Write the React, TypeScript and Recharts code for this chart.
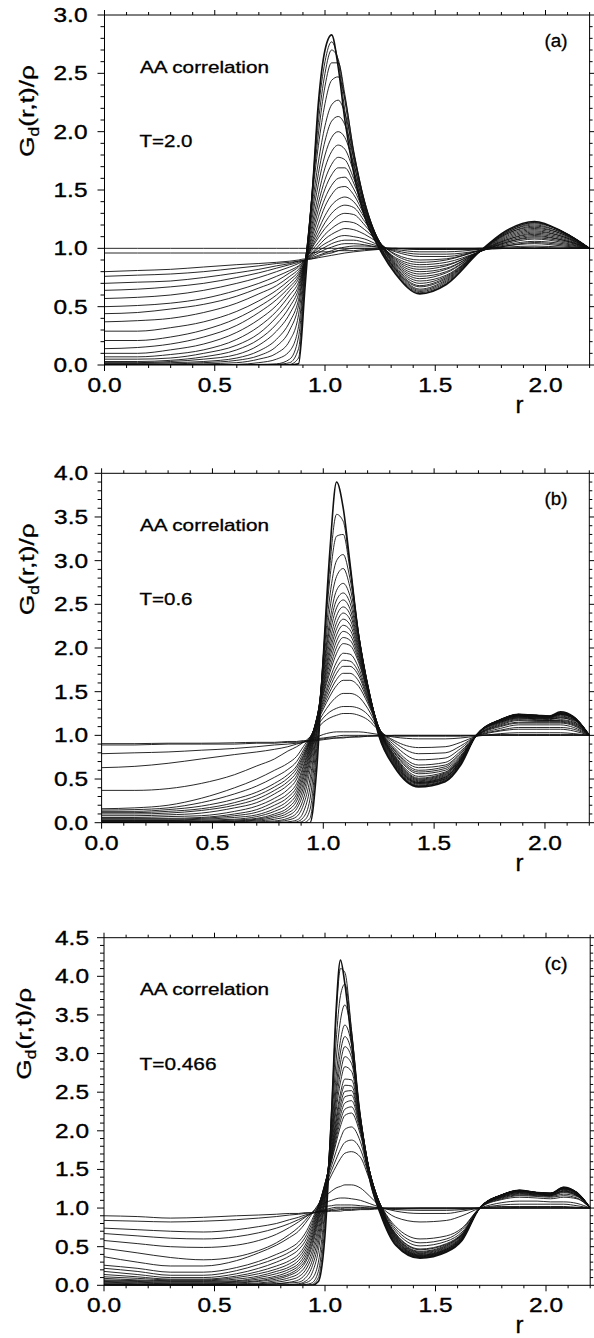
import React from 'react';
import { LineChart, Line, XAxis, YAxis } from 'recharts';

const FONT = '"Liberation Sans", Arial, Helvetica, sans-serif';

// ---------------- Panel (a)  T = 2.0 ----------------
const rA = [0, 0.15, 0.3, 0.45, 0.6, 0.7, 0.78, 0.84, 0.88, 0.91, 0.94, 0.97, 1.0, 1.03, 1.06, 1.09, 1.13, 1.18, 1.24, 1.32, 1.43, 1.55, 1.7, 1.82, 1.95, 2.08, 2.2];
const a0 = [0, 0, 0, 0, 0, 0, 0, 0, 0.01, 0.68, 1.41, 2.25, 2.7, 2.83, 2.55, 2.1, 1.65, 1.27, 1.02, 0.78, 0.61, 0.69, 0.97, 1.15, 1.23, 1.14, 1.0];
const a1 = [0, 0, 0, 0, 0, 0, 0, 0.005, 0.06, 0.76, 1.45, 2.18, 2.6, 2.77, 2.6, 2.18, 1.7, 1.3, 1.03, 0.79, 0.62, 0.7, 0.97, 1.14, 1.22, 1.14, 1.0];
const a2 = [0, 0, 0, 0, 0, 0, 0.005, 0.02, 0.14, 0.8, 1.44, 2.08, 2.5, 2.7, 2.62, 2.27, 1.76, 1.33, 1.04, 0.8, 0.63, 0.71, 0.97, 1.14, 1.22, 1.14, 1.0];
const a3 = [0, 0, 0, 0, 0, 0.005, 0.01, 0.05, 0.24, 0.84, 1.43, 1.98, 2.39, 2.59, 2.59, 2.32, 1.82, 1.36, 1.05, 0.81, 0.64, 0.72, 0.97, 1.13, 1.21, 1.14, 1.0];
const a4 = [0, 0, 0, 0, 0.005, 0.02, 0.05, 0.12, 0.33, 0.86, 1.4, 1.88, 2.24, 2.44, 2.47, 2.29, 1.84, 1.39, 1.06, 0.82, 0.65, 0.73, 0.97, 1.13, 1.2, 1.13, 1.0];
const a5 = [0.005, 0.005, 0.005, 0.01, 0.02, 0.05, 0.1, 0.21, 0.43, 0.88, 1.34, 1.74, 2.05, 2.23, 2.27, 2.16, 1.82, 1.4, 1.06, 0.82, 0.67, 0.74, 0.97, 1.12, 1.19, 1.13, 1.0];
const a6 = [0.01, 0.01, 0.01, 0.02, 0.04, 0.08, 0.16, 0.3, 0.51, 0.89, 1.29, 1.64, 1.92, 2.09, 2.13, 2.06, 1.78, 1.4, 1.07, 0.83, 0.68, 0.75, 0.97, 1.12, 1.18, 1.12, 1.0];
const a7 = [0.015, 0.015, 0.02, 0.03, 0.06, 0.12, 0.22, 0.37, 0.56, 0.89, 1.24, 1.55, 1.8, 1.95, 2.0, 1.95, 1.72, 1.38, 1.08, 0.84, 0.7, 0.76, 0.97, 1.11, 1.17, 1.12, 1.0];
const a8 = [0.02, 0.02, 0.03, 0.05, 0.09, 0.17, 0.29, 0.44, 0.61, 0.89, 1.19, 1.46, 1.69, 1.83, 1.885, 1.85, 1.66, 1.36, 1.08, 0.85, 0.72, 0.77, 0.97, 1.1, 1.16, 1.11, 1.0];
const a9 = [0.03, 0.03, 0.04, 0.07, 0.13, 0.22, 0.35, 0.5, 0.65, 0.89, 1.15, 1.39, 1.59, 1.72, 1.78, 1.76, 1.6, 1.34, 1.08, 0.86, 0.74, 0.79, 0.97, 1.09, 1.15, 1.1, 1.0];
const a10 = [0.05, 0.05, 0.06, 0.1, 0.17, 0.27, 0.41, 0.55, 0.68, 0.89, 1.11, 1.33, 1.51, 1.63, 1.69, 1.69, 1.56, 1.32, 1.08, 0.87, 0.76, 0.8, 0.97, 1.08, 1.14, 1.1, 1.0];
const a11 = [0.07, 0.07, 0.09, 0.13, 0.22, 0.33, 0.46, 0.6, 0.71, 0.89, 1.08, 1.27, 1.43, 1.54, 1.6, 1.61, 1.51, 1.3, 1.08, 0.88, 0.78, 0.82, 0.97, 1.07, 1.13, 1.09, 1.0];
const a12 = [0.1, 0.1, 0.13, 0.18, 0.28, 0.39, 0.51, 0.64, 0.74, 0.89, 1.05, 1.21, 1.36, 1.46, 1.52, 1.53, 1.46, 1.28, 1.08, 0.89, 0.8, 0.83, 0.97, 1.07, 1.12, 1.08, 1.0];
const a13 = [0.14, 0.15, 0.18, 0.24, 0.34, 0.45, 0.56, 0.67, 0.76, 0.89, 1.03, 1.16, 1.28, 1.37, 1.42, 1.44, 1.4, 1.26, 1.07, 0.9, 0.82, 0.85, 0.97, 1.06, 1.11, 1.07, 1.0];
const a14 = [0.21, 0.21, 0.24, 0.3, 0.4, 0.5, 0.6, 0.7, 0.78, 0.89, 1.01, 1.12, 1.22, 1.3, 1.35, 1.37, 1.35, 1.23, 1.07, 0.91, 0.84, 0.86, 0.97, 1.05, 1.1, 1.07, 1.0];
const a15 = [0.29, 0.29, 0.32, 0.37, 0.46, 0.55, 0.64, 0.73, 0.8, 0.9, 1.0, 1.09, 1.17, 1.23, 1.28, 1.3, 1.29, 1.2, 1.06, 0.92, 0.86, 0.88, 0.97, 1.05, 1.09, 1.06, 1.0];
const a16 = [0.37, 0.38, 0.4, 0.45, 0.53, 0.61, 0.68, 0.76, 0.82, 0.9, 0.98, 1.05, 1.12, 1.17, 1.21, 1.23, 1.22, 1.16, 1.06, 0.94, 0.88, 0.9, 0.98, 1.04, 1.08, 1.05, 1.0];
const a17 = [0.44, 0.45, 0.48, 0.52, 0.59, 0.66, 0.72, 0.79, 0.84, 0.9, 0.96, 1.02, 1.08, 1.12, 1.15, 1.17, 1.16, 1.12, 1.05, 0.95, 0.9, 0.91, 0.98, 1.03, 1.06, 1.04, 1.0];
const a18 = [0.5, 0.51, 0.53, 0.57, 0.64, 0.7, 0.76, 0.81, 0.85, 0.9, 0.95, 1.0, 1.04, 1.07, 1.1, 1.11, 1.1, 1.08, 1.03, 0.97, 0.93, 0.93, 0.98, 1.02, 1.05, 1.03, 1.0];
const a19 = [0.57, 0.58, 0.6, 0.64, 0.7, 0.75, 0.8, 0.84, 0.87, 0.9, 0.94, 0.98, 1.01, 1.04, 1.06, 1.07, 1.07, 1.05, 1.02, 0.98, 0.95, 0.95, 0.98, 1.02, 1.04, 1.02, 1.0];
const a20 = [0.64, 0.65, 0.67, 0.7, 0.75, 0.79, 0.83, 0.86, 0.88, 0.9, 0.93, 0.96, 0.99, 1.01, 1.03, 1.04, 1.04, 1.03, 1.01, 0.99, 0.97, 0.97, 0.99, 1.01, 1.02, 1.01, 1.0];
const a21 = [0.7, 0.71, 0.72, 0.75, 0.79, 0.82, 0.85, 0.87, 0.89, 0.9, 0.92, 0.94, 0.96, 0.98, 1.0, 1.01, 1.02, 1.02, 1.01, 1.0, 0.99, 0.99, 0.99, 1.0, 1.01, 1.0, 1.0];
const a22 = [0.76, 0.77, 0.78, 0.8, 0.83, 0.85, 0.87, 0.88, 0.89, 0.9, 0.91, 0.93, 0.95, 0.96, 0.98, 0.99, 1.0, 1.0, 1.0, 1.0, 0.99, 0.99, 1.0, 1.0, 1.0, 1.0, 1.0];
const a23 = [0.8, 0.81, 0.82, 0.84, 0.86, 0.87, 0.88, 0.89, 0.9, 0.91, 0.91, 0.92, 0.93, 0.94, 0.95, 0.96, 0.97, 0.98, 0.99, 1.0, 1.0, 1.0, 1.0, 1.0, 1.0, 1.0, 1.0];
const a24 = [0.96, 0.96, 0.96, 0.96, 0.96, 0.96, 0.96, 0.96, 0.96, 0.96, 0.96, 0.97, 0.97, 0.97, 0.98, 0.98, 0.98, 0.99, 0.99, 1.0, 1.0, 1.0, 1.0, 1.0, 1.0, 1.0, 1.0];
const a25 = [1.0, 1.0, 1.0, 1.0, 1.0, 1.0, 1.0, 1.0, 1.0, 1.0, 1.0, 1.0, 1.0, 1.0, 1.0, 1.0, 1.0, 1.0, 1.0, 1.0, 1.0, 1.0, 1.0, 1.0, 1.0, 1.0, 1.0];
const seriesA = [a0, a1, a2, a3, a4, a5, a6, a7, a8, a9, a10, a11, a12, a13, a14, a15, a16, a17, a18, a19, a20, a21, a22, a23, a24, a25];

// ---------------- Panel (b)  T = 0.6 ----------------
const rB = [0, 0.15, 0.3, 0.45, 0.6, 0.7, 0.78, 0.84, 0.88, 0.91, 0.94, 0.97, 1.0, 1.03, 1.06, 1.09, 1.12, 1.16, 1.2, 1.25, 1.32, 1.43, 1.55, 1.62, 1.69, 1.8, 1.88, 1.96, 2.02, 2.07, 2.13, 2.2];
const b0 = [0, 0, 0, 0, 0, 0, 0, 0, 0, 0, 0, 0.6, 1.9, 3.12, 3.9, 3.6, 2.98, 2.13, 1.55, 1.0, 0.64, 0.41, 0.47, 0.66, 1.0, 1.18, 1.24, 1.23, 1.22, 1.27, 1.21, 1.0];
const b1 = [0, 0, 0, 0, 0, 0, 0, 0, 0, 0, 0.05, 0.75, 1.9, 2.95, 3.53, 3.45, 2.95, 2.15, 1.56, 1.01, 0.65, 0.42, 0.48, 0.67, 1.0, 1.18, 1.24, 1.23, 1.22, 1.26, 1.21, 1.0];
const b2 = [0, 0, 0, 0, 0, 0, 0, 0, 0, 0.02, 0.15, 0.85, 1.9, 2.8, 3.28, 3.3, 2.9, 2.15, 1.57, 1.02, 0.66, 0.42, 0.48, 0.67, 1.0, 1.18, 1.24, 1.23, 1.22, 1.26, 1.21, 1.0];
const b3 = [0, 0, 0, 0, 0, 0, 0, 0, 0.01, 0.06, 0.27, 0.95, 1.85, 2.6, 3.0, 3.07, 2.8, 2.15, 1.58, 1.03, 0.67, 0.43, 0.49, 0.68, 1.0, 1.18, 1.24, 1.23, 1.22, 1.26, 1.21, 1.0];
const b4 = [0, 0, 0, 0, 0, 0, 0, 0.01, 0.03, 0.12, 0.4, 1.02, 1.8, 2.45, 2.82, 2.91, 2.7, 2.13, 1.59, 1.04, 0.68, 0.44, 0.5, 0.69, 1.0, 1.18, 1.23, 1.22, 1.21, 1.25, 1.2, 1.0];
const b5 = [0, 0, 0, 0, 0, 0, 0.01, 0.03, 0.07, 0.2, 0.5, 1.06, 1.75, 2.32, 2.66, 2.74, 2.6, 2.1, 1.59, 1.05, 0.69, 0.45, 0.5, 0.69, 1.0, 1.18, 1.23, 1.22, 1.21, 1.25, 1.2, 1.0];
const b6 = [0, 0, 0, 0, 0, 0.01, 0.02, 0.05, 0.11, 0.27, 0.6, 1.1, 1.72, 2.24, 2.55, 2.63, 2.52, 2.07, 1.58, 1.06, 0.7, 0.45, 0.51, 0.7, 1.0, 1.17, 1.23, 1.22, 1.21, 1.25, 1.2, 1.0];
const b7 = [0.005, 0.005, 0.005, 0.005, 0.01, 0.02, 0.04, 0.08, 0.16, 0.34, 0.67, 1.14, 1.68, 2.16, 2.46, 2.55, 2.45, 2.04, 1.57, 1.07, 0.71, 0.46, 0.52, 0.71, 1.0, 1.17, 1.23, 1.22, 1.21, 1.24, 1.2, 1.0];
const b8 = [0.01, 0.01, 0.01, 0.01, 0.015, 0.03, 0.06, 0.11, 0.2, 0.4, 0.72, 1.16, 1.64, 2.08, 2.37, 2.47, 2.39, 2.01, 1.56, 1.08, 0.72, 0.46, 0.52, 0.71, 1.0, 1.17, 1.22, 1.21, 1.21, 1.24, 1.2, 1.0];
const b9 = [0.015, 0.015, 0.015, 0.015, 0.02, 0.04, 0.08, 0.14, 0.25, 0.45, 0.76, 1.17, 1.6, 2.01, 2.29, 2.4, 2.33, 1.98, 1.55, 1.08, 0.73, 0.47, 0.53, 0.71, 1.0, 1.17, 1.22, 1.21, 1.21, 1.24, 1.19, 1.0];
const b10 = [0.02, 0.02, 0.02, 0.02, 0.03, 0.05, 0.1, 0.17, 0.29, 0.5, 0.8, 1.18, 1.57, 1.95, 2.22, 2.33, 2.27, 1.95, 1.54, 1.09, 0.74, 0.48, 0.54, 0.72, 1.0, 1.17, 1.22, 1.21, 1.2, 1.23, 1.19, 1.0];
const b11 = [0.025, 0.025, 0.025, 0.03, 0.04, 0.07, 0.13, 0.21, 0.33, 0.54, 0.83, 1.19, 1.54, 1.89, 2.15, 2.26, 2.21, 1.92, 1.53, 1.09, 0.75, 0.49, 0.55, 0.73, 1.0, 1.16, 1.21, 1.2, 1.2, 1.22, 1.18, 1.0];
const b12 = [0.03, 0.03, 0.03, 0.04, 0.06, 0.09, 0.16, 0.25, 0.37, 0.58, 0.86, 1.19, 1.51, 1.83, 2.08, 2.19, 2.15, 1.89, 1.52, 1.09, 0.76, 0.5, 0.56, 0.73, 1.0, 1.16, 1.21, 1.2, 1.19, 1.21, 1.18, 1.0];
const b13 = [0.04, 0.04, 0.04, 0.05, 0.08, 0.12, 0.2, 0.29, 0.41, 0.62, 0.88, 1.19, 1.48, 1.77, 2.01, 2.12, 2.09, 1.86, 1.5, 1.09, 0.77, 0.51, 0.57, 0.74, 1.0, 1.15, 1.2, 1.19, 1.19, 1.2, 1.17, 1.0];
const b14 = [0.05, 0.05, 0.05, 0.06, 0.1, 0.15, 0.24, 0.33, 0.45, 0.65, 0.9, 1.19, 1.46, 1.72, 1.94, 2.05, 2.03, 1.83, 1.49, 1.09, 0.78, 0.53, 0.58, 0.75, 1.0, 1.15, 1.2, 1.19, 1.18, 1.2, 1.16, 1.0];
const b15 = [0.06, 0.06, 0.07, 0.08, 0.13, 0.19, 0.28, 0.38, 0.5, 0.69, 0.92, 1.18, 1.42, 1.65, 1.84, 1.94, 1.93, 1.77, 1.46, 1.09, 0.8, 0.56, 0.6, 0.76, 0.99, 1.14, 1.19, 1.18, 1.17, 1.18, 1.15, 1.0];
const b16 = [0.08, 0.08, 0.09, 0.11, 0.17, 0.23, 0.33, 0.43, 0.54, 0.72, 0.93, 1.17, 1.39, 1.6, 1.77, 1.86, 1.85, 1.72, 1.44, 1.09, 0.81, 0.58, 0.62, 0.77, 0.99, 1.13, 1.18, 1.17, 1.17, 1.17, 1.14, 1.0];
const b17 = [0.1, 0.1, 0.11, 0.14, 0.2, 0.27, 0.37, 0.47, 0.58, 0.75, 0.94, 1.16, 1.36, 1.55, 1.71, 1.79, 1.79, 1.68, 1.42, 1.09, 0.83, 0.6, 0.64, 0.79, 0.99, 1.12, 1.17, 1.16, 1.16, 1.16, 1.13, 1.0];
const b18 = [0.115, 0.115, 0.13, 0.16, 0.23, 0.31, 0.41, 0.51, 0.62, 0.77, 0.95, 1.15, 1.33, 1.5, 1.64, 1.71, 1.71, 1.62, 1.4, 1.09, 0.84, 0.63, 0.66, 0.8, 0.99, 1.11, 1.15, 1.15, 1.15, 1.15, 1.12, 1.0];
const b19 = [0.13, 0.13, 0.15, 0.19, 0.27, 0.35, 0.45, 0.55, 0.65, 0.8, 0.96, 1.14, 1.3, 1.45, 1.57, 1.63, 1.63, 1.56, 1.37, 1.09, 0.86, 0.66, 0.69, 0.82, 0.99, 1.1, 1.14, 1.14, 1.14, 1.14, 1.11, 1.0];
const b20 = [0.145, 0.15, 0.17, 0.23, 0.33, 0.42, 0.52, 0.61, 0.7, 0.83, 0.97, 1.12, 1.25, 1.36, 1.44, 1.48, 1.48, 1.44, 1.31, 1.08, 0.89, 0.72, 0.74, 0.85, 0.99, 1.08, 1.12, 1.12, 1.12, 1.12, 1.09, 1.0];
const b21 = [0.16, 0.17, 0.2, 0.28, 0.4, 0.5, 0.6, 0.68, 0.76, 0.87, 0.98, 1.1, 1.2, 1.27, 1.31, 1.33, 1.33, 1.31, 1.24, 1.07, 0.92, 0.79, 0.8, 0.88, 0.99, 1.06, 1.09, 1.09, 1.09, 1.09, 1.07, 1.0];
const b22 = [0.37, 0.37, 0.39, 0.45, 0.55, 0.65, 0.73, 0.82, 0.87, 0.92, 0.98, 1.07, 1.15, 1.2, 1.23, 1.25, 1.25, 1.23, 1.18, 1.06, 0.94, 0.86, 0.87, 0.92, 0.99, 1.05, 1.07, 1.07, 1.07, 1.07, 1.05, 1.0];
const b23 = [0.63, 0.645, 0.68, 0.73, 0.78, 0.81, 0.84, 0.87, 0.9, 0.92, 0.95, 0.98, 1.01, 1.03, 1.04, 1.04, 1.04, 1.04, 1.03, 1.01, 0.98, 0.96, 0.96, 0.97, 0.99, 1.02, 1.03, 1.03, 1.03, 1.03, 1.02, 1.0];
const b24 = [0.79, 0.8, 0.81, 0.83, 0.85, 0.87, 0.89, 0.9, 0.91, 0.92, 0.94, 0.96, 0.97, 0.98, 0.99, 1.0, 1.0, 1.0, 1.0, 1.0, 0.99, 0.99, 0.99, 0.99, 1.0, 1.01, 1.01, 1.01, 1.01, 1.01, 1.01, 1.0];
const b25 = [0.89, 0.89, 0.9, 0.9, 0.9, 0.91, 0.91, 0.92, 0.92, 0.93, 0.93, 0.94, 0.95, 0.96, 0.97, 0.97, 0.98, 0.98, 0.99, 0.99, 1.0, 1.0, 1.0, 1.0, 1.0, 1.0, 1.0, 1.0, 1.0, 1.0, 1.0, 1.0];
const b26 = [0.905, 0.905, 0.91, 0.91, 0.915, 0.92, 0.92, 0.93, 0.93, 0.94, 0.94, 0.95, 0.96, 0.97, 0.97, 0.98, 0.98, 0.99, 0.99, 1.0, 1.0, 1.0, 1.0, 1.0, 1.0, 1.0, 1.0, 1.0, 1.0, 1.0, 1.0, 1.0];
const seriesB = [b0, b1, b2, b3, b4, b5, b6, b7, b8, b9, b10, b11, b12, b13, b14, b15, b16, b17, b18, b19, b20, b21, b22, b23, b24, b25, b26];

// ---------------- Panel (c)  T = 0.466 ----------------
const rC = [0, 0.15, 0.3, 0.45, 0.6, 0.7, 0.78, 0.84, 0.88, 0.91, 0.94, 0.97, 1.0, 1.03, 1.05, 1.07, 1.09, 1.12, 1.16, 1.2, 1.25, 1.32, 1.43, 1.55, 1.62, 1.7, 1.8, 1.88, 1.96, 2.02, 2.08, 2.14, 2.2];
const c0 = [0, 0, 0, 0, 0, 0, 0, 0, 0, 0, 0, 0.05, 0.65, 2.25, 3.55, 4.21, 3.9, 3.15, 2.1, 1.4, 0.93, 0.52, 0.35, 0.43, 0.58, 1.0, 1.17, 1.23, 1.2, 1.19, 1.27, 1.2, 1.0];
const c1 = [0, 0, 0, 0, 0, 0, 0, 0, 0, 0, 0.01, 0.1, 0.8, 2.3, 3.45, 4.1, 4.05, 3.3, 2.12, 1.4, 0.94, 0.53, 0.36, 0.44, 0.59, 1.0, 1.17, 1.23, 1.2, 1.19, 1.27, 1.2, 1.0];
const c2 = [0, 0, 0, 0, 0, 0, 0, 0, 0, 0.01, 0.03, 0.18, 0.92, 2.2, 3.15, 3.75, 3.9, 3.3, 2.15, 1.42, 0.95, 0.54, 0.36, 0.44, 0.59, 1.0, 1.17, 1.23, 1.2, 1.19, 1.26, 1.2, 1.0];
const c3 = [0, 0, 0, 0, 0, 0, 0, 0, 0.01, 0.03, 0.08, 0.3, 1.0, 2.1, 2.9, 3.43, 3.63, 3.25, 2.2, 1.46, 0.96, 0.55, 0.37, 0.45, 0.6, 1.0, 1.17, 1.23, 1.2, 1.19, 1.26, 1.2, 1.0];
const c4 = [0, 0, 0, 0, 0, 0, 0, 0.01, 0.02, 0.05, 0.15, 0.45, 1.1, 2.0, 2.7, 3.17, 3.37, 3.12, 2.2, 1.48, 0.97, 0.56, 0.37, 0.45, 0.6, 1.0, 1.17, 1.22, 1.2, 1.19, 1.26, 1.2, 1.0];
const c5 = [0.01, 0.005, 0, 0, 0, 0.01, 0.02, 0.03, 0.04, 0.09, 0.23, 0.55, 1.15, 1.95, 2.55, 3.02, 3.22, 3.02, 2.18, 1.49, 0.98, 0.57, 0.38, 0.46, 0.61, 1.0, 1.17, 1.22, 1.2, 1.19, 1.26, 1.2, 1.0];
const c6 = [0.015, 0.01, 0.005, 0.005, 0.005, 0.01, 0.02, 0.04, 0.07, 0.14, 0.3, 0.63, 1.18, 1.9, 2.45, 2.88, 3.09, 2.95, 2.17, 1.5, 0.99, 0.58, 0.38, 0.46, 0.61, 1.0, 1.17, 1.22, 1.2, 1.19, 1.25, 1.2, 1.0];
const c7 = [0.02, 0.01, 0.01, 0.01, 0.01, 0.02, 0.04, 0.07, 0.11, 0.19, 0.37, 0.7, 1.22, 1.85, 2.35, 2.75, 2.96, 2.87, 2.15, 1.5, 1.0, 0.59, 0.39, 0.47, 0.62, 1.0, 1.17, 1.22, 1.2, 1.19, 1.25, 1.19, 1.0];
const c8 = [0.03, 0.02, 0.015, 0.015, 0.02, 0.03, 0.06, 0.1, 0.15, 0.24, 0.43, 0.76, 1.25, 1.8, 2.26, 2.63, 2.83, 2.77, 2.12, 1.5, 1.01, 0.6, 0.39, 0.47, 0.62, 1.0, 1.17, 1.22, 1.2, 1.18, 1.25, 1.19, 1.0];
const c9 = [0.04, 0.03, 0.02, 0.02, 0.03, 0.05, 0.08, 0.13, 0.19, 0.29, 0.49, 0.82, 1.27, 1.76, 2.16, 2.49, 2.67, 2.66, 2.1, 1.5, 1.02, 0.61, 0.4, 0.48, 0.63, 1.0, 1.16, 1.22, 1.19, 1.18, 1.25, 1.19, 1.0];
const c10 = [0.05, 0.04, 0.03, 0.03, 0.04, 0.06, 0.1, 0.15, 0.22, 0.32, 0.53, 0.86, 1.28, 1.73, 2.1, 2.42, 2.59, 2.58, 2.08, 1.5, 1.02, 0.62, 0.41, 0.49, 0.63, 1.0, 1.16, 1.21, 1.19, 1.18, 1.24, 1.18, 1.0];
const c11 = [0.06, 0.05, 0.04, 0.04, 0.05, 0.08, 0.12, 0.18, 0.25, 0.36, 0.57, 0.89, 1.29, 1.7, 2.04, 2.34, 2.51, 2.52, 2.06, 1.5, 1.03, 0.63, 0.42, 0.5, 0.64, 1.0, 1.16, 1.21, 1.19, 1.17, 1.23, 1.18, 1.0];
const c12 = [0.07, 0.06, 0.05, 0.05, 0.06, 0.1, 0.15, 0.21, 0.28, 0.4, 0.6, 0.92, 1.3, 1.68, 1.99, 2.27, 2.44, 2.46, 2.04, 1.5, 1.03, 0.64, 0.43, 0.51, 0.65, 1.0, 1.15, 1.2, 1.18, 1.17, 1.22, 1.17, 1.0];
const c13 = [0.09, 0.07, 0.06, 0.06, 0.08, 0.12, 0.18, 0.24, 0.32, 0.44, 0.64, 0.95, 1.31, 1.66, 1.94, 2.2, 2.36, 2.39, 2.02, 1.49, 1.04, 0.65, 0.44, 0.52, 0.66, 1.0, 1.15, 1.2, 1.18, 1.17, 1.22, 1.17, 1.0];
const c14 = [0.11, 0.09, 0.07, 0.07, 0.1, 0.15, 0.21, 0.28, 0.36, 0.48, 0.68, 0.98, 1.32, 1.63, 1.89, 2.13, 2.28, 2.31, 1.99, 1.48, 1.04, 0.66, 0.46, 0.53, 0.66, 1.0, 1.14, 1.19, 1.17, 1.16, 1.21, 1.16, 1.0];
const c15 = [0.14, 0.11, 0.08, 0.08, 0.12, 0.18, 0.25, 0.32, 0.4, 0.52, 0.72, 1.0, 1.32, 1.61, 1.84, 2.06, 2.2, 2.23, 1.95, 1.47, 1.04, 0.67, 0.47, 0.54, 0.67, 1.0, 1.14, 1.18, 1.17, 1.16, 1.2, 1.16, 1.0];
const c16 = [0.18, 0.14, 0.1, 0.1, 0.15, 0.22, 0.3, 0.38, 0.46, 0.57, 0.76, 1.02, 1.3, 1.55, 1.73, 1.9, 2.02, 2.05, 1.86, 1.44, 1.05, 0.7, 0.51, 0.57, 0.69, 1.0, 1.13, 1.17, 1.16, 1.15, 1.18, 1.15, 1.0];
const c17 = [0.22, 0.18, 0.13, 0.13, 0.19, 0.27, 0.35, 0.43, 0.51, 0.62, 0.8, 1.03, 1.28, 1.49, 1.63, 1.76, 1.85, 1.88, 1.76, 1.41, 1.05, 0.73, 0.55, 0.6, 0.72, 1.0, 1.12, 1.16, 1.15, 1.14, 1.16, 1.13, 1.0];
const c18 = [0.26, 0.22, 0.17, 0.17, 0.23, 0.31, 0.4, 0.48, 0.56, 0.67, 0.84, 1.04, 1.25, 1.43, 1.54, 1.64, 1.71, 1.73, 1.66, 1.38, 1.05, 0.76, 0.6, 0.64, 0.74, 1.0, 1.11, 1.14, 1.13, 1.12, 1.14, 1.12, 1.0];
const c19 = [0.37, 0.3, 0.25, 0.25, 0.32, 0.42, 0.52, 0.62, 0.7, 0.8, 0.92, 1.05, 1.15, 1.22, 1.26, 1.28, 1.3, 1.3, 1.26, 1.16, 1.02, 0.88, 0.82, 0.84, 0.9, 1.0, 1.07, 1.09, 1.09, 1.08, 1.08, 1.06, 1.0];
const c20 = [0.48, 0.42, 0.36, 0.33, 0.37, 0.45, 0.55, 0.66, 0.75, 0.84, 0.94, 1.02, 1.07, 1.1, 1.12, 1.13, 1.13, 1.12, 1.1, 1.06, 1.01, 0.96, 0.93, 0.93, 0.96, 1.0, 1.04, 1.05, 1.05, 1.05, 1.05, 1.03, 1.0];
const c21 = [0.58, 0.54, 0.5, 0.49, 0.52, 0.58, 0.66, 0.75, 0.82, 0.88, 0.94, 0.99, 1.02, 1.03, 1.04, 1.04, 1.04, 1.04, 1.03, 1.02, 1.0, 0.98, 0.97, 0.97, 0.98, 1.0, 1.02, 1.02, 1.02, 1.02, 1.02, 1.01, 1.0];
const c22 = [0.67, 0.64, 0.61, 0.6, 0.63, 0.68, 0.74, 0.8, 0.85, 0.89, 0.93, 0.96, 0.98, 1.0, 1.01, 1.01, 1.01, 1.01, 1.01, 1.0, 1.0, 0.99, 0.99, 0.99, 0.99, 1.0, 1.0, 1.01, 1.01, 1.01, 1.01, 1.0, 1.0];
const c23 = [0.74, 0.72, 0.7, 0.69, 0.72, 0.76, 0.8, 0.85, 0.88, 0.91, 0.93, 0.95, 0.97, 0.98, 0.99, 0.99, 1.0, 1.0, 1.0, 1.0, 1.0, 1.0, 1.0, 1.0, 1.0, 1.0, 1.0, 1.0, 1.0, 1.0, 1.0, 1.0, 1.0];
const c24 = [0.84, 0.83, 0.82, 0.83, 0.85, 0.87, 0.89, 0.91, 0.92, 0.93, 0.94, 0.95, 0.96, 0.97, 0.97, 0.98, 0.98, 0.98, 0.99, 0.99, 1.0, 1.0, 1.0, 1.0, 1.0, 1.0, 1.0, 1.0, 1.0, 1.0, 1.0, 1.0, 1.0];
const c25 = [0.9, 0.89, 0.87, 0.88, 0.9, 0.91, 0.92, 0.93, 0.93, 0.94, 0.94, 0.95, 0.95, 0.96, 0.96, 0.96, 0.97, 0.97, 0.98, 0.98, 0.99, 0.99, 1.0, 1.0, 1.0, 1.0, 1.0, 1.0, 1.0, 1.0, 1.0, 1.0, 1.0];
const seriesC = [c0, c1, c2, c3, c4, c5, c6, c7, c8, c9, c10, c11, c12, c13, c14, c15, c16, c17, c18, c19, c20, c21, c22, c23, c24, c25];

// ---------------- text ----------------
const panelLetters = ['(a)', '(b)', '(c)'];
const tempLabels = ['T=2.0', 'T=0.6', 'T=0.466'];
const corrLabel = 'AA correlation';
const xTitle = 'r';
const yMaxes = [3, 4, 4.5];

const xTicks = Array.from({ length: 23 }, (_, i) => i / 10);
const yTicksFor = (max: number) => Array.from({ length: Math.round(max * 10) + 1 }, (_, i) => i / 10);
const isMajor = (v: number) => Math.abs(v * 2 - Math.round(v * 2)) < 1e-6;

function buildRows(grid: number[], series: number[][]) {
  return grid.map((r, i) => {
    const row: Record<string, number> = { r };
    series.forEach((s, k) => {
      row['s' + k] = s[i];
    });
    return row;
  });
}

type Cfg = {
  top: number;
  height: number;
  left: number;
  right: number;
  pTop: number;
  pBottom: number;
  yMax: number;
  yLabelOff: number;
  grid: number[];
  series: number[][];
};

const cfgs: Cfg[] = [
  { top: 0, height: 440, left: 104.5, right: 589.6, pTop: 15, pBottom: 365, yMax: yMaxes[0], yLabelOff: 17, grid: rA, series: seriesA },
  { top: 440, height: 460, left: 101.6, right: 589.3, pTop: 473.3, pBottom: 822.7, yMax: yMaxes[1], yLabelOff: 13.5, grid: rB, series: seriesB },
  { top: 900, height: 438, left: 104, right: 590.2, pTop: 937.7, pBottom: 1285.3, yMax: yMaxes[2], yLabelOff: 15, grid: rC, series: seriesC },
];

const W = 594;
const XB = 50;
const XT = 10;
const YL = 60;
const YR = 3;

function BottomTick(p: any) {
  const { x, y, payload } = p;
  const v = payload.value as number;
  const major = isMajor(v);
  return (
    <g>
      <line x1={x} y1={y} x2={x} y2={y + (major ? 6 : 3)} stroke="#000" strokeWidth={1} />
      {major ? (
        <text x={x} y={y + 27} textAnchor="middle" fontSize={20} fontFamily={FONT} fill="#000" stroke="#000" strokeWidth={0.35}
          textLength={34} lengthAdjust="spacingAndGlyphs">
          {v.toFixed(1)}
        </text>
      ) : null}
    </g>
  );
}

function TopTick(p: any) {
  const { x, y, payload } = p;
  const major = isMajor(payload.value);
  return <line x1={x} y1={y} x2={x} y2={y - (major ? 5 : 3)} stroke="#000" strokeWidth={1} />;
}

function RightTick(p: any) {
  const { x, y, payload } = p;
  const major = isMajor(payload.value);
  return <line x1={x} y1={y} x2={x + (major ? 5 : 3)} y2={y} stroke="#000" strokeWidth={1} />;
}

function makeLeftTick(off: number) {
  return (p: any) => {
    const { x, y, payload } = p;
    const v = payload.value as number;
    const major = isMajor(v);
    return (
      <g>
        <line x1={x - (major ? 7 : 4)} y1={y} x2={x} y2={y} stroke="#000" strokeWidth={1} />
        {major ? (
          <text x={x - off} y={y + 7} textAnchor="end" fontSize={20} fontFamily={FONT} fill="#000" stroke="#000" strokeWidth={0.35}
            textLength={34} lengthAdjust="spacingAndGlyphs">
            {v.toFixed(1)}
          </text>
        ) : null}
      </g>
    );
  };
}

function Panel({ cfg }: { cfg: Cfg }) {
  const data = buildRows(cfg.grid, cfg.series);
  const margin = {
    top: cfg.pTop - cfg.top - XT,
    bottom: cfg.height - (cfg.pBottom - cfg.top) - XB,
    left: cfg.left - YL,
    right: W - cfg.right - YR,
  };
  const yTicks = yTicksFor(cfg.yMax);
  return (
    <div style={{ position: 'absolute', left: 0, top: cfg.top, width: W, height: cfg.height }}>
      <LineChart width={W} height={cfg.height} data={data} margin={margin}>
        <XAxis xAxisId="b" orientation="bottom" dataKey="r" type="number" domain={[0, 2.2]} ticks={xTicks} interval={0} height={XB}
          tickSize={0} tickMargin={0} tickLine={false} tick={BottomTick} axisLine={{ stroke: '#000', strokeWidth: 1 }} allowDataOverflow />
        <XAxis xAxisId="t" orientation="top" dataKey="r" type="number" domain={[0, 2.2]} ticks={xTicks} interval={0} height={XT}
          tickSize={0} tickMargin={0} tickLine={false} tick={TopTick} axisLine={{ stroke: '#000', strokeWidth: 1 }} allowDataOverflow />
        <YAxis yAxisId="l" orientation="left" type="number" domain={[0, cfg.yMax]} ticks={yTicks} interval={0} width={YL}
          tickSize={0} tickMargin={0} tickLine={false} tick={makeLeftTick(cfg.yLabelOff)} axisLine={{ stroke: '#000', strokeWidth: 1 }} allowDataOverflow />
        <YAxis yAxisId="r" orientation="right" type="number" domain={[0, cfg.yMax]} ticks={yTicks} interval={0} width={YR}
          tickSize={0} tickMargin={0} tickLine={false} tick={RightTick} axisLine={{ stroke: '#000', strokeWidth: 1 }} allowDataOverflow />
        {cfg.series.map((_, k) => (
          <Line
            key={k}
            xAxisId="b"
            yAxisId="l"
            dataKey={'s' + k}
            type="monotone"
            stroke="#111"
            strokeWidth={k === 0 ? 1.6 : 0.9}
            dot={false}
            activeDot={false}
            isAnimationActive={false}
          />
        ))}
      </LineChart>
    </div>
  );
}

function Annotations() {
  const rows = cfgs.map((c, i) => {
    const yCenter = c.pTop + 96;
    const ylx = i === 2 ? 31 : 34;
    return (
      <g key={i} fontFamily={FONT} fill="#000" stroke="#000" strokeWidth={0.3}>
        <text x={140} y={c.pTop + 57.5} fontSize={16.5} textLength={129} lengthAdjust="spacingAndGlyphs">{corrLabel}</text>
        <text x={139.5} y={c.pTop + 132} fontSize={17} textLength={i === 2 ? 77 : 53} lengthAdjust="spacingAndGlyphs">{tempLabels[i]}</text>
        <text x={556} y={c.pTop + 32} fontSize={18} textAnchor="middle" textLength={23} lengthAdjust="spacingAndGlyphs">{panelLetters[i]}</text>
        <text x={519.5} y={c.pBottom + 48} fontSize={24} textAnchor="middle">{xTitle}</text>
        <text transform={`translate(${ylx}, ${yCenter}) rotate(-90)`} textAnchor="middle" fontSize={21} textLength={92} lengthAdjust="spacingAndGlyphs">
          G<tspan dy={5} fontSize={14}>d</tspan><tspan dy={-5}>(r,t)/ρ</tspan>
        </text>
      </g>
    );
  });
  return (
    <svg width={W} height={1338} style={{ position: 'absolute', left: 0, top: 0, pointerEvents: 'none' }}>
      {rows}
    </svg>
  );
}

export default function App() {
  return (
    <div style={{ position: 'absolute', left: 0, top: 0, width: W, height: 1338, background: '#fff', overflow: 'hidden' }}>
      {cfgs.map((c, i) => (
        <Panel key={i} cfg={c} />
      ))}
      <Annotations />
    </div>
  );
}
